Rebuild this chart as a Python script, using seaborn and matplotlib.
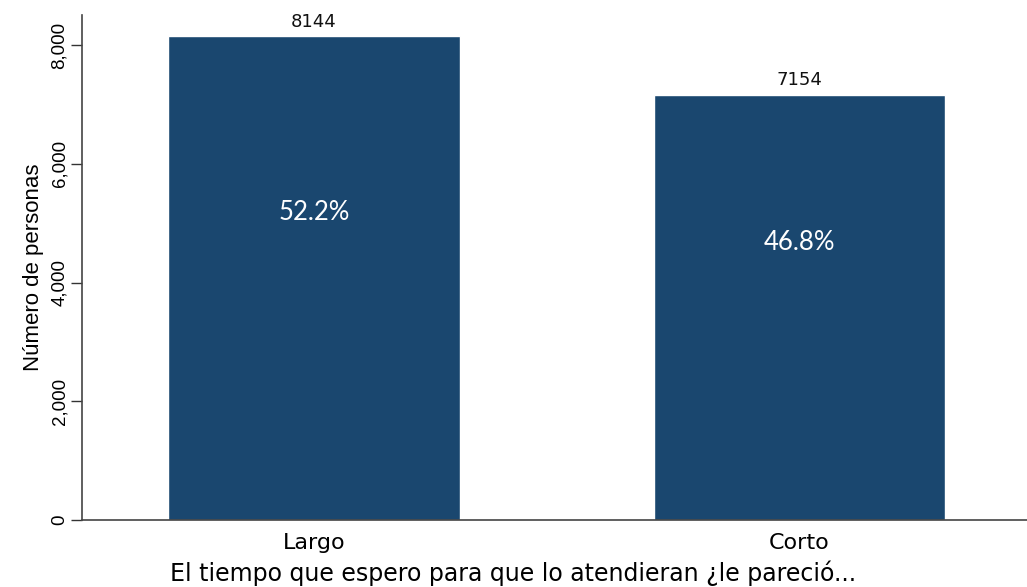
import matplotlib
matplotlib.use("Agg")
import matplotlib.pyplot as plt
import seaborn as sns
import pandas as pd

# Survey responses: perceived waiting time
categories = ["Largo", "Corto"]
counts = [8144, 7154]
percent_labels = ["52.2%", "46.8%"]
y_ticks = [0, 2000, 4000, 6000, 8000]
y_tick_labels = ["0", "2,000", "4,000", "6,000", "8,000"]

df = pd.DataFrame({"categoria": categories, "personas": counts})

sns.set_theme(style="white")
plt.rcParams["font.family"] = ["DejaVu Sans"]

fig = plt.figure(figsize=(10.27, 5.87), dpi=100)
ax = fig.add_axes([0.0798, 0.1141, 0.9202, 0.8603])

bar_color = "#1a476f"
sns.barplot(data=df, x="categoria", y="personas", color=bar_color,
            saturation=1, width=0.6, ax=ax)

ax.set_xlim(-0.478, 1.4686)
ax.set_ylim(0, 8505)

# count labels above the bars, percentages inside
for i, (c, p) in enumerate(zip(counts, percent_labels)):
    ax.text(i, c + 100, str(c), ha="center", va="bottom",
            fontsize=13, color="#111111")
    ax.text(i, c / 2 + 1100, p, ha="center", va="center",
            fontsize=18.5, color="white", family=["Lato", "DejaVu Sans"])

ax.set_yticks(y_ticks)
ax.set_yticklabels(y_tick_labels, rotation=90, va="center", fontsize=13.5,
                   family=["Liberation Sans", "DejaVu Sans"], color="black")
ax.tick_params(axis="y", length=8, width=1, color="#333333", pad=2, left=True)
ax.tick_params(axis="x", length=0, pad=9, labelsize=16, labelcolor="black")

ax.set_xlabel("El tiempo que espero para que lo atendieran ¿le pareció...",
              fontsize=17, color="black")
# the axis title sits centred on the whole figure width
ax.xaxis.set_label_coords(0.4566, -0.0795)
ax.set_ylabel("Número de personas", fontsize=16, labelpad=5, color="black",
              family=["Liberation Sans", "DejaVu Sans"])

for side in ["top", "right"]:
    ax.spines[side].set_visible(False)
for side in ["left", "bottom"]:
    ax.spines[side].set_color("#444444")
    ax.spines[side].set_linewidth(1.2)

fig.savefig("out.png", dpi=100, facecolor="white")
